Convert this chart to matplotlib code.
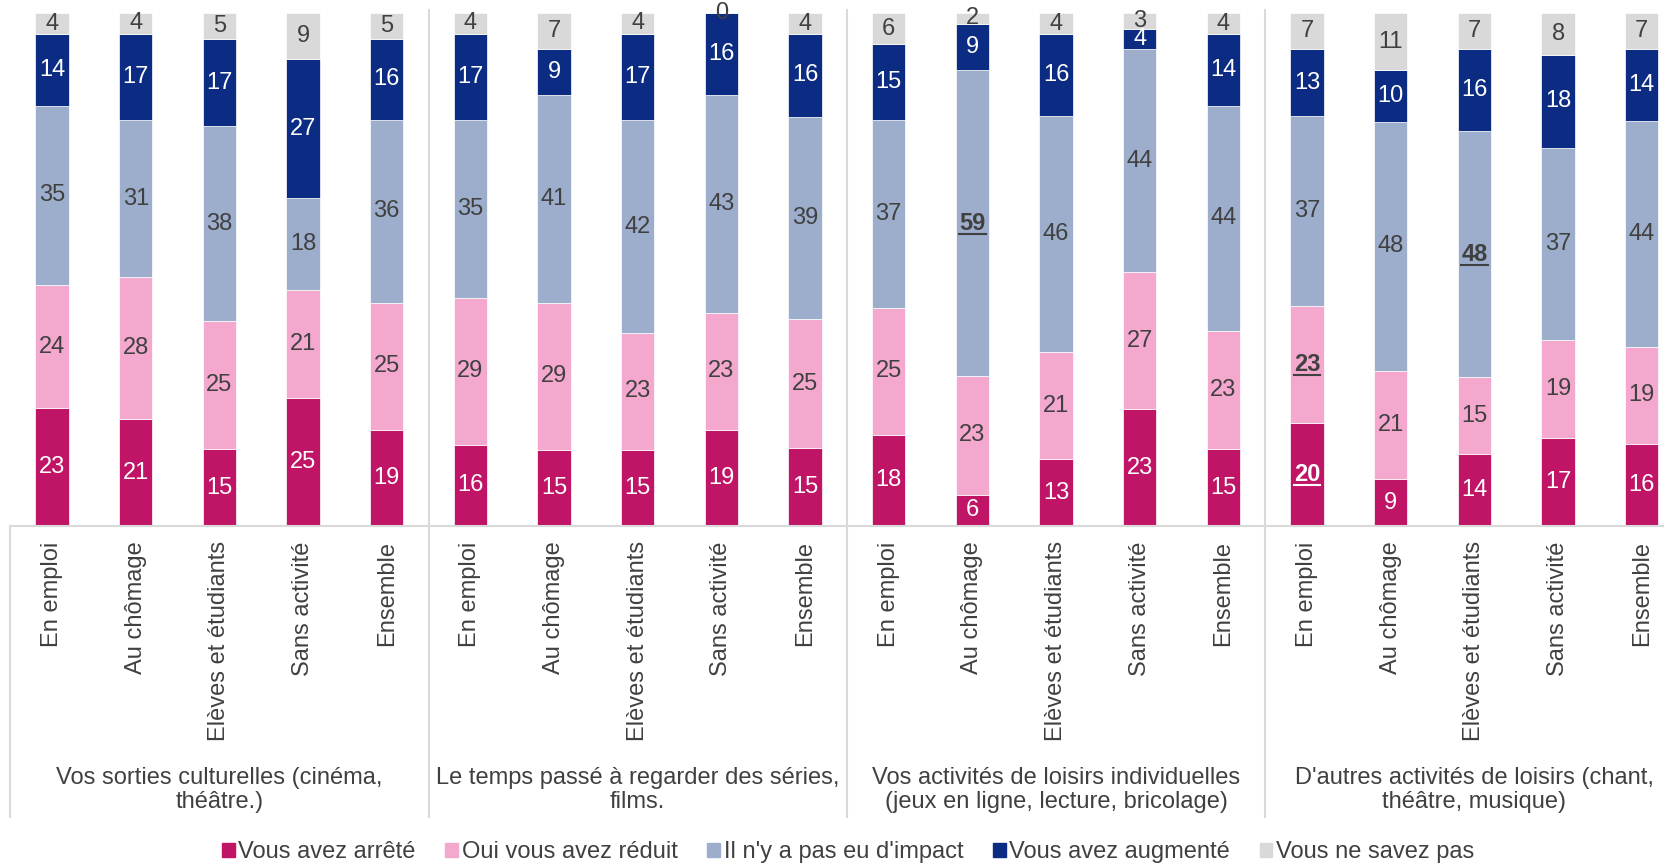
import numpy as np
import matplotlib
matplotlib.use('Agg')
import matplotlib.pyplot as plt
from matplotlib.lines import Line2D
from matplotlib.patches import Patch
from matplotlib.transforms import blended_transform_factory

plt.rcParams['font.family'] = ['Liberation Sans', 'DejaVu Sans']

# data
groups = ["Vos sorties culturelles (cinéma,\nthéâtre.)",
          "Le temps passé à regarder des séries,\nfilms.",
          "Vos activités de loisirs individuelles\n(jeux en ligne, lecture, bricolage)",
          "D'autres activités de loisirs (chant,\nthéâtre, musique)"]
statuts = ["En emploi", "Au chômage", "Elèves et étudiants", "Sans activité", "Ensemble"]
series_names = ["Vous avez arrêté", "Oui vous avez réduit", "Il n'y a pas eu d'impact",
                "Vous avez augmenté", "Vous ne savez pas"]
arrete = [23, 21, 15, 25, 19, 16, 15, 15, 19, 15, 18, 6, 13, 23, 15, 20, 9, 14, 17, 16]
reduit = [24, 28, 25, 21, 25, 29, 29, 23, 23, 25, 25, 23, 21, 27, 23, 23, 21, 15, 19, 19]
impact = [35, 31, 38, 18, 36, 35, 41, 42, 43, 39, 37, 59, 46, 44, 44, 37, 48, 48, 37, 44]
augmente = [14, 17, 17, 27, 16, 17, 9, 17, 16, 16, 15, 9, 16, 4, 14, 13, 10, 16, 18, 14]
nsp = [4, 4, 5, 9, 5, 4, 7, 4, 0, 4, 6, 2, 4, 3, 4, 7, 11, 7, 8, 7]

colors = ['#C01467', '#F4A8CE', '#9DADCC', '#0B2C82', '#D9D9D9']
label_colors = ['white', '#404040', '#404040', 'white', '#404040']
# (series index, bar index) of the highlighted labels
bold_labels = [(2, 11), (1, 15), (0, 15), (2, 17)]

data = np.array([arrete, reduit, impact, augmente, nsp], dtype=float)
share = data / data.sum(axis=0) * 100  # 100 % stacked
x = np.arange(data.shape[1])

W, H = 1664, 863
fig = plt.figure(figsize=(W / 100, H / 100), dpi=100)
ax_left, ax_right = 10.2, 1683.6
ax_bot, ax_top = 526, 13.3
ax = fig.add_axes([ax_left / W, 1 - ax_bot / H, (ax_right - ax_left) / W, (ax_bot - ax_top) / H])

bottom = np.zeros(len(x))
texts = {}
for i, name in enumerate(series_names):
    ax.bar(x, share[i], 0.4, bottom=bottom, color=colors[i], edgecolor='white',
           linewidth=0.5, label=name)
    for j in range(len(x)):
        bold = (i, j) in bold_labels
        t = ax.text(x[j], bottom[j] + share[i, j] / 2, f"{int(data[i, j])}",
                    ha='center', va='center', fontsize=17, color=label_colors[i],
                    fontweight='bold' if bold else 'normal')
        if bold:
            texts[(i, j)] = t
    bottom += share[i]

ax.set_xlim(-0.5, len(x) - 0.5)
ax.set_ylim(0, 100)
ax.set_yticks([])
ax.set_xticks(x)
ax.set_xticklabels(statuts * len(groups), rotation=90, fontsize=17, color='#404040', va='top')
ax.tick_params(axis='x', length=0, pad=11)
for s in ['left', 'right', 'top']:
    ax.spines[s].set_visible(False)
ax.spines['bottom'].set_color('#D9D9D9')
ax.spines['bottom'].set_linewidth(1.5)

# group separators and group names
tr = blended_transform_factory(ax.transData, ax.transAxes)
axh = ax_bot - ax_top
low = -(817 - ax_bot) / axh
for g in range(len(groups)):
    xb = g * 5 - 0.5
    ax.plot([xb, xb], [low, 1.006 if g > 0 else 0], transform=tr, color='#D9D9D9',
            lw=1.5, clip_on=False)
    ax.text(g * 5 + 2, -(790 - ax_bot) / axh, groups[g], transform=tr, ha='center',
            va='center', fontsize=17, color='#404040', linespacing=1.15)

handles = [Patch(color=c) for c in colors]
fig.legend(handles, series_names, loc='center', bbox_to_anchor=(848 / W, 1 - 852 / H),
           ncol=5, frameon=False, fontsize=17, handlelength=0.55, handleheight=0.55,
           handletextpad=0.15, columnspacing=1.25, labelcolor='#404040')

# underline highlighted labels
fig.canvas.draw()
r = fig.canvas.get_renderer()
for (i, j), t in texts.items():
    bb = t.get_window_extent(r)
    y = bb.y0 + 1
    fig.add_artist(Line2D([bb.x0 / W, bb.x1 / W], [y / H, y / H], transform=fig.transFigure,
                          color=t.get_color(), lw=1.5))

fig.savefig('out.png', dpi=100)
